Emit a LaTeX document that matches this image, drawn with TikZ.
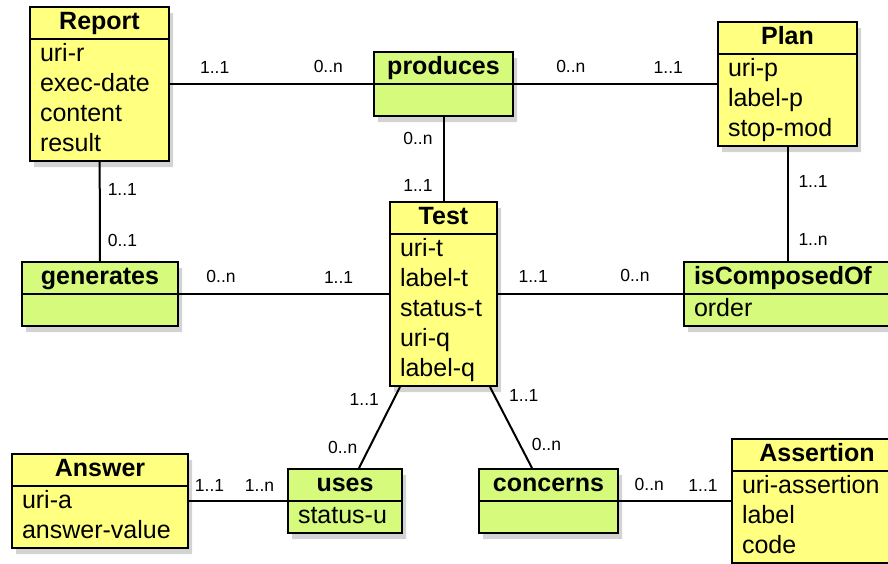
\documentclass[tikz,border=0pt]{standalone}
\usepackage{fontspec}
\setmainfont{Liberation Sans}
\usetikzlibrary{shapes.multipart}
\usetikzlibrary{shadows}
\usetikzlibrary{calc}

\definecolor{entityyellow}{RGB}{255,255,128}
\definecolor{relationgreen}{RGB}{213,250,124}

\begin{document}
\begin{tikzpicture}[x=1pt, y=-1pt,
      entityblock/.style={draw, line width=2pt, rectangle split, rectangle split parts=2,
        fill=entityyellow, inner xsep=10pt, inner ysep=0pt, align=left, anchor=north west,
        font=\fontsize{25}{30}\selectfont,
        drop shadow={opacity=0.35, shadow xshift=4pt, shadow yshift=-6pt}},
      relationblock/.style={entityblock, fill=relationgreen},
      link/.style={line width=2pt},
      card/.style={font=\fontsize{17.5}{20}\selectfont, inner sep=0pt}]
    \useasboundingbox (0,0) rectangle (888,563);

    % Entities
    \node[entityblock, text width=119pt] (report) at (29,6)
      {\hfill\textbf{Report}\hfill\strut \nodepart{two} uri-r\strut\\ exec-date\strut\\ content\strut\\ result\strut};
    \node[entityblock, text width=119pt] (plan) at (717,21)
      {\hfill\textbf{Plan}\hfill\strut \nodepart{two} uri-p\strut\\ label-p\strut\\ stop-mod\strut};
    \node[entityblock, text width=87pt] (test) at (389,201)
      {\hfill\textbf{Test}\hfill\strut \nodepart{two} uri-t\strut\\ label-t\strut\\ status-t\strut\\ uri-q\strut\\ label-q\strut};
    \node[entityblock, text width=156pt] (answer) at (11,453)
      {\hfill\textbf{Answer}\hfill\strut \nodepart{two} uri-a\strut\\ answer-value\strut};
    \node[entityblock, text width=150pt] (assertion) at (731,438)
      {\hfill\textbf{Assertion}\hfill\strut \nodepart{two} uri-assertion\strut\\ label\strut\\ code\strut};

    % Relations
    \node[relationblock, text width=119pt] (produces) at (373,51)
      {\hfill\textbf{produces}\hfill\strut \nodepart{two} \strut};
    \node[relationblock, text width=136pt] (generates) at (21,261)
      {\hfill\textbf{generates}\hfill\strut \nodepart{two} \strut};
    \node[relationblock, text width=200pt] (iscomposedof) at (683,261)
      {\textbf{isComposedOf}\strut \nodepart{two} order\strut};
    \node[relationblock, text width=94pt] (uses) at (287,468)
      {\hfill\textbf{uses}\hfill\strut \nodepart{two} status-u\strut};
    \node[relationblock, text width=119pt] (concerns) at (478,468)
      {\hfill\textbf{concerns}\hfill\strut \nodepart{two} \strut};

    % Links
    \draw[link] (report) -- node[card, pos=.22, above=10pt] (rp1) {1..1}
                            node[card, pos=.78, above=10pt] (rp2) {0..n} (produces);
    \draw[link] (produces) -- node[card, pos=.28, above=10pt] (pp1) {0..n}
                              node[card, pos=.76, above=10pt] (pp2) {1..1} (plan);
    \draw[link] (produces) -- node[card, pos=.25, left=10pt] (pt1) {0..n}
                              node[card, pos=.82, left=10pt] (pt2) {1..1} (test);
    \draw[link] (report) -- node[card, pos=.28, right=7pt] (rg1) {1..1}
                            node[card, pos=.79, right=7pt] (rg2) {0..1} (generates);
    \draw[link] (generates) -- node[card, pos=.2, above=10pt] (gt1) {0..n}
                               node[card, pos=.76, above=10pt] (gt2) {1..1} (test);
    \draw[link] (test) -- node[card, pos=.19, above=11pt] (ti1) {1..1}
                          node[card, pos=.74, above=11pt] (ti2) {0..n} (iscomposedof);
    \draw[link] (plan.south) -- node[card, pos=.3, right=10pt] (pi1) {1..1}
                                node[card, pos=.81, right=10pt] (pi2) {1..n} (plan.south |- iscomposedof.north);
    \draw[link] ($(test.south west)+(11,0)$) -- node[card, pos=.15, left=14pt] (tu1) {1..1}
                                              node[card, pos=.75, left=11pt] (tu2) {0..n} ($(uses.north west)+(72,0)$);
    \draw[link] ($(test.south east)+(-8,0)$) -- node[card, pos=.1, right=14pt] (tc1) {1..1}
                                              node[card, pos=.71, right=11pt] (tc2) {0..n} ($(concerns.north west)+(54,0)$);
    \draw[link] (answer) -- node[card, pos=.21, above=9pt] (au1) {1..1}
                            node[card, pos=.72, above=9pt] (au2) {1..n} (uses);
    \draw[link] (concerns) -- node[card, pos=.27, above=9pt] (ca1) {0..n}
                              node[card, pos=.75, above=9pt] (ca2) {1..1} (assertion);

  \end{tikzpicture}
\end{document}
